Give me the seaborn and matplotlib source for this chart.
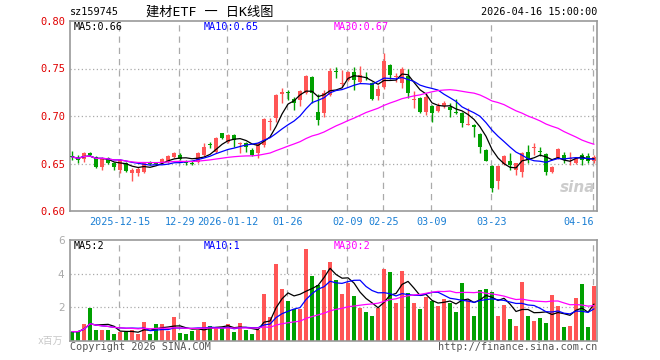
import numpy as np
import pandas as pd
import matplotlib
matplotlib.use("Agg")
import matplotlib.pyplot as plt
import seaborn as sns

# K线数据 (按交易日顺序, 2025-12-03 ~ 2026-04-16)
open_ = [0.658, 0.656, 0.655, 0.661, 0.657, 0.646, 0.656, 0.651, 0.643, 0.651,
         0.640, 0.640, 0.641, 0.651, 0.651, 0.651, 0.652, 0.657, 0.659, 0.652,
         0.651, 0.652, 0.659, 0.670, 0.662, 0.682, 0.673, 0.680, 0.671, 0.672,
         0.664, 0.661, 0.670, 0.694, 0.698, 0.723, 0.725, 0.718, 0.717, 0.724,
         0.741, 0.704, 0.703, 0.722, 0.747, 0.734, 0.738, 0.746, 0.736, 0.741,
         0.735, 0.721, 0.731, 0.754, 0.741, 0.735, 0.742, 0.717, 0.719, 0.704,
         0.711, 0.705, 0.711, 0.710, 0.704, 0.703, 0.691, 0.691, 0.681, 0.664,
         0.647, 0.632, 0.650, 0.653, 0.643, 0.641, 0.662, 0.666, 0.663, 0.660,
         0.641, 0.656, 0.659, 0.655, 0.651, 0.659, 0.658, 0.653]
high = [0.663, 0.659, 0.662, 0.662, 0.658, 0.657, 0.657, 0.652, 0.655, 0.652,
        0.645, 0.646, 0.652, 0.653, 0.652, 0.656, 0.659, 0.662, 0.661, 0.654,
        0.653, 0.662, 0.672, 0.673, 0.678, 0.682, 0.681, 0.681, 0.673, 0.673,
        0.666, 0.673, 0.698, 0.698, 0.723, 0.730, 0.727, 0.720, 0.727, 0.743,
        0.742, 0.723, 0.727, 0.751, 0.752, 0.748, 0.747, 0.752, 0.753, 0.746,
        0.736, 0.733, 0.766, 0.755, 0.745, 0.752, 0.750, 0.726, 0.720, 0.724,
        0.712, 0.714, 0.716, 0.714, 0.718, 0.704, 0.708, 0.692, 0.682, 0.665,
        0.648, 0.648, 0.659, 0.661, 0.651, 0.662, 0.670, 0.672, 0.667, 0.661,
        0.647, 0.666, 0.662, 0.662, 0.657, 0.661, 0.661, 0.659]
low = [0.654, 0.651, 0.652, 0.658, 0.645, 0.643, 0.650, 0.643, 0.640, 0.641,
       0.632, 0.637, 0.640, 0.648, 0.648, 0.650, 0.651, 0.656, 0.654, 0.648,
       0.648, 0.651, 0.658, 0.666, 0.661, 0.676, 0.672, 0.667, 0.661, 0.662,
       0.658, 0.656, 0.667, 0.685, 0.694, 0.714, 0.717, 0.706, 0.711, 0.723,
       0.714, 0.691, 0.699, 0.721, 0.740, 0.731, 0.737, 0.727, 0.735, 0.738,
       0.717, 0.717, 0.728, 0.739, 0.736, 0.730, 0.719, 0.708, 0.703, 0.701,
       0.694, 0.704, 0.708, 0.699, 0.702, 0.688, 0.691, 0.678, 0.661, 0.653,
       0.620, 0.623, 0.648, 0.643, 0.638, 0.636, 0.651, 0.659, 0.658, 0.638,
       0.640, 0.655, 0.651, 0.648, 0.650, 0.648, 0.651, 0.651]
close = [0.657, 0.654, 0.661, 0.659, 0.646, 0.656, 0.651, 0.646, 0.654, 0.642,
         0.643, 0.644, 0.651, 0.650, 0.650, 0.655, 0.658, 0.661, 0.655, 0.651,
         0.650, 0.661, 0.667, 0.669, 0.677, 0.677, 0.680, 0.675, 0.672, 0.667,
         0.659, 0.672, 0.697, 0.695, 0.722, 0.725, 0.724, 0.714, 0.726, 0.742,
         0.724, 0.696, 0.724, 0.747, 0.746, 0.735, 0.746, 0.738, 0.743, 0.740,
         0.718, 0.728, 0.758, 0.743, 0.742, 0.750, 0.724, 0.718, 0.704, 0.720,
         0.703, 0.711, 0.714, 0.706, 0.703, 0.693, 0.692, 0.688, 0.667, 0.653,
         0.624, 0.647, 0.658, 0.648, 0.650, 0.661, 0.654, 0.667, 0.662, 0.641,
         0.646, 0.665, 0.654, 0.656, 0.656, 0.654, 0.653, 0.657]
# 成交量 (百万)
volume = [0.53, 0.53, 0.97, 1.96, 0.63, 0.63, 0.63, 0.39, 0.53, 0.53,
          0.63, 0.39, 1.11, 0.39, 0.97, 0.97, 0.59, 1.39, 0.45, 0.39,
          0.59, 0.63, 1.11, 0.87, 0.73, 0.73, 0.97, 0.53, 1.05, 0.63,
          0.39, 0.63, 2.78, 1.39, 4.58, 3.08, 2.37, 1.89, 1.89, 5.48,
          3.88, 3.32, 4.22, 4.66, 3.62, 2.78, 3.42, 2.66, 1.96, 1.73,
          1.47, 1.96, 4.28, 4.08, 2.26, 4.16, 2.86, 2.26, 1.89, 2.59,
          2.37, 2.07, 2.49, 2.26, 1.73, 3.46, 2.43, 1.47, 3.02, 3.08,
          2.90, 1.47, 2.13, 1.29, 0.87, 3.50, 1.47, 1.17, 1.35, 1.05,
          2.72, 2.07, 0.81, 0.87, 2.55, 3.38, 0.81, 3.26]

tick_pos = [8, 18, 26, 36, 46, 52, 60, 70, 87]
tick_labels = ['2025-12-15', '12-29', '2026-01-12', '01-26', '02-09',
               '02-25', '03-09', '03-23', '04-16']

RED = '#ff5555'
GREEN = '#00a000'
GRID = '#aaaaaa'

sns.set_style('white')
plt.rcParams['font.family'] = ['DejaVu Sans Mono', 'Noto Sans CJK SC']

df = pd.DataFrame({'idx': np.arange(len(close)), 'open': open_, 'high': high,
                   'low': low, 'close': close, 'vol': volume})
for n in (5, 10, 30):
    df['ma%d' % n] = df['close'].rolling(n, min_periods=1).mean()
    df['vma%d' % n] = df['vol'].rolling(n, min_periods=1).mean()
colors = np.where(df['close'] >= df['open'], RED, GREEN)

W, H = 660, 360
fig = plt.figure(figsize=(6.6, 3.6), dpi=100)
ax = fig.add_axes([70 / W, 1 - 211 / H, 527 / W, 190 / H])
axv = fig.add_axes([70 / W, 1 - 340.5 / H, 527 / W, 100.5 / H])

# 网格
for a in (ax, axv):
    for p in tick_pos:
        a.axvline(p - 0.25, color=GRID, ls=(0, (5, 4)), lw=0.9, zorder=0)
    for s in a.spines.values():
        s.set_color('#999999')
        s.set_linewidth(1.2)
    a.set_xlim(-0.35, 87.5)
for y in (0.65, 0.70, 0.75):
    ax.axhline(y, color=GRID, ls=(0, (1, 2)), lw=0.9, zorder=0)
for y in (2, 4):
    axv.axhline(y, color=GRID, ls=(0, (1, 2)), lw=0.9, zorder=0)

# K线
ax.vlines(df['idx'], df['low'], df['high'], colors=colors, lw=1, zorder=2)
body = np.maximum((df['close'] - df['open']).abs(), 0.0009)
ax.bar(df['idx'], body, bottom=np.minimum(df['open'], df['close']),
       width=0.75, color=colors, lw=0, zorder=3)

# 均线
sns.lineplot(data=df, x='idx', y='ma5', ax=ax, color='black', lw=0.9, zorder=4)
sns.lineplot(data=df, x='idx', y='ma10', ax=ax, color='#0000ff', lw=0.9, zorder=4)
sns.lineplot(data=df, x='idx', y='ma30', ax=ax, color='#ff00ff', lw=0.9, zorder=4)

ax.set_ylim(0.60, 0.80)
ax.set_yticks([0.60, 0.65, 0.70, 0.75, 0.80])
ax.set_yticklabels(['%.2f' % v for v in [0.60, 0.65, 0.70, 0.75, 0.80]])
ax.set_xticks(tick_pos)
ax.set_xticklabels(tick_labels)
ax.get_xticklabels()[-1].set_horizontalalignment('right')
ax.tick_params(axis='y', length=0, pad=3, labelsize=7.5, labelcolor='#e00000')
ax.tick_params(axis='x', length=0, pad=4, labelsize=7.3, labelcolor='#1a7fd4')
ax.set_xlabel('')
ax.set_ylabel('')

# 成交量
axv.bar(df['idx'], df['vol'], width=0.8, color=colors, lw=0, zorder=2)
sns.lineplot(data=df, x='idx', y='vma5', ax=axv, color='black', lw=0.9, zorder=4)
sns.lineplot(data=df, x='idx', y='vma10', ax=axv, color='#0000ff', lw=0.9, zorder=4)
sns.lineplot(data=df, x='idx', y='vma30', ax=axv, color='#ff00ff', lw=0.9, zorder=4)
axv.set_ylim(0, 6)
axv.set_yticks([2, 4, 6])
axv.set_yticklabels(['2', '4', '6'], family='DejaVu Sans')
axv.set_xticks([])
axv.tick_params(axis='y', length=0, pad=4, labelsize=7.5, labelcolor='#aaaaaa')
axv.set_xlabel('')
axv.set_ylabel('')


def txt(x, y, s, **kw):
    fig.text(x / W, 1 - y / H, s, va='center', **kw)


txt(70, 12, 'sz159745', fontsize=7.3, color='black')
txt(210, 12, '建材ETF 一 日K线图', fontsize=9.5, color='black', ha='center')
txt(597, 12, '2026-04-16 15:00:00', fontsize=7.3, color='black', ha='right')
txt(74, 27, 'MA5:0.66', fontsize=7.3, color='black')
txt(204, 27, 'MA10:0.65', fontsize=7.3, color='#0000ff')
txt(334, 27, 'MA30:0.67', fontsize=7.3, color='#ff00ff')
txt(74, 246, 'MA5:2', fontsize=7.3, color='black')
txt(204, 246, 'MA10:1', fontsize=7.3, color='#0000ff')
txt(334, 246, 'MA30:2', fontsize=7.3, color='#ff00ff')
txt(38, 341, 'x百万', fontsize=7, color='#c8c8c8')
txt(70, 347, 'Copyright 2026 SINA.COM', fontsize=7.3, color='#555555')
txt(597, 347, 'http://finance.sina.com.cn', fontsize=7.3, color='#555555', ha='right')
txt(595, 187, 'sina', fontsize=11, color='#cccccc', ha='right',
    family='DejaVu Sans', style='italic', weight='bold')

fig.savefig('out.png', dpi=100)
